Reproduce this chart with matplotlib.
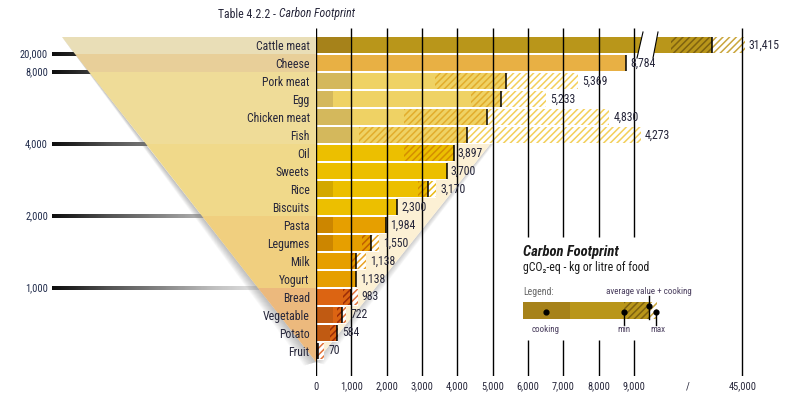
import numpy as np
import matplotlib
matplotlib.use("Agg")
import matplotlib.pyplot as plt
from matplotlib import font_manager
from matplotlib.patches import Polygon, Rectangle

# gCO2-eq per kg or litre of food
foods = ["Cattle meat", "Cheese", "Pork meat", "Egg", "Chicken meat", "Fish",
         "Oil", "Sweets", "Rice", "Biscuits", "Pasta", "Legumes", "Milk",
         "Yogurt", "Bread", "Vegetable", "Potato", "Fruit"]
cooking = [960, 0, 960, 470, 960, 960, 0, 0, 470, 0, 470, 470, 0, 0, 0, 470, 400, 0]
min_val = [12900, 8784, 3370, 4390, 2490, 1220, 2490, 3700, 2900, 2300, 1984, 1310,
           980, 1138, 770, 600, 400, 0]
avg_cook = [31415, 8784, 5369, 5233, 4830, 4273, 3897, 3700, 3170, 2300, 1984, 1550,
            1138, 1138, 983, 722, 584, 70]
max_val = [46000, 8784, 7410, 6510, 8300, 9200, 3897, 3700, 3400, 2300, 1984, 1790,
           1410, 1138, 1180, 850, 630, 235]

thresholds = ["20,000", "8,000", "4,000", "2,000", "1,000"]
threshold_row = [0, 1, 5, 9, 13]   # last food above each threshold
tick_vals = [0, 1000, 2000, 3000, 4000, 5000, 6000, 7000, 8000, 9000, 45000]

# colour groups
group = [0, 1, 2, 2, 2, 2, 3, 3, 3, 3, 4, 4, 4, 4, 5, 5, 5, 5]
cook_col = ["#a6821a", "#e8b044", "#d4b85c", "#d3a800", "#cc8600", "#c05a12"]
base_col = ["#b9961a", "#e8b044", "#efd264", "#ecbf00", "#e69f00", "#dc6412"]
dark_hatch = ["#7f6210", "#c08020", "#e2ad2c", "#d48e00", "#c06000", "#9c2c08"]
light_hatch = ["#caa63c", "#e8b044", "#f3cf5a", "#eab914", "#e9a224", "#e2733a"]
band_col = ["#e9deb7", "#e8cf99", "#efdc98", "#f0d98a", "#f0cf7f", "#ecb97d"]

names = {f.name for f in font_manager.fontManager.ttflist}
family = "DejaVu Sans"
for cand in ["Roboto Condensed", "Liberation Sans Narrow", "Open Sans Condensed", "Roboto"]:
    if cand in names:
        family = cand
        break
plt.rcParams["font.family"] = [family, "DejaVu Sans"]
plt.rcParams["hatch.linewidth"] = 1.1
fs = 1.0 if "Condensed" in family or "Narrow" in family else 0.88
txt = "#26263a"

# broken x axis: linear up to BRK, compressed after
BRK, K = 9870, 0.06257
def fwd(v):
    v = np.asarray(v, dtype=float)
    return np.where(v <= BRK, v, BRK + (v - BRK) * K)

def inv(u):
    u = np.asarray(u, dtype=float)
    return np.where(u <= BRK, u, BRK + (u - BRK) / K)

W, H = 803, 416
X0, PX = 316, 318 / 9000     # pixel of zero, pixels per unit
Y0, ROW = 45, 18             # first row centre, row pitch
XMAX = 66700
ax_w = float(fwd(XMAX)) * PX

fig = plt.figure(figsize=(W / 100, H / 100), dpi=100)
bg = fig.add_axes([0, 0, 1, 1])
bg.axis("off")

ax = fig.add_axes([X0 / W, 1 - 376 / H, ax_w / W, 348 / H])
ax.patch.set_alpha(0)
ax.set_xscale("function", functions=(fwd, inv))
ax.set_xlim(0, XMAX)
ax.set_ylim((376 - Y0) / ROW, (28 - Y0) / ROW)
for s in ax.spines.values():
    s.set_visible(False)

# ---- background triangle
TL, APEX, TR = (62, 37), (316, 362), (576, 37)
def left_edge(py):
    return TL[0] + (py - TL[1]) * (APEX[0] - TL[0]) / (APEX[1] - TL[1])

for d in range(1, 13):
    bg.add_patch(Polygon([TL, (APEX[0] - d, APEX[1] + d * 0.3), (APEX[0], APEX[1])],
                         color="#707070", alpha=0.045, lw=0))
    bg.add_patch(Polygon([TR, (APEX[0] + d * 0.7, APEX[1] + d * 0.2), (APEX[0], APEX[1])],
                         color="#808080", alpha=0.035, lw=0))
bg.add_patch(Polygon([(X0, TR[1]), TR, APEX], color="#fcf0d4", lw=0))

cuts = [TL[1]] + [Y0 + ROW * (r + 0.5) for r in threshold_row] + [APEX[1]]
for k in range(len(cuts) - 1):
    a, b = cuts[k], cuts[k + 1]
    bg.add_patch(Polygon([(left_edge(a), a), (X0, a), (X0, b), (left_edge(b), b)],
                         color=band_col[k], lw=0))

grad = np.linspace(0.05, 1, 256)[None, :]
for lab, r in zip(thresholds, threshold_row):
    py = Y0 + ROW * (r + 0.5)
    bg.imshow(grad, cmap="Greys_r", vmin=0, vmax=1, aspect="auto",
              extent=(52, X0, py + 1.6, py - 1.6), interpolation="bilinear")
    bg.text(48, py, lab, ha="right", va="center", fontsize=7.5 * fs, color="#1f2a4a")

# ---- bars
y = np.arange(len(foods))
cook = np.array(cooking)
lo = np.array(min_val)
mid = np.array(avg_cook)
hi = np.array(max_val)
c_cook = [cook_col[g] for g in group]
c_base = [base_col[g] for g in group]
c_dark = [dark_hatch[g] for g in group]
c_light = [light_hatch[g] for g in group]

ax.barh(y, hi, height=1.0, color="white", zorder=1)
ax.barh(y, cook, height=0.9, color=c_cook, lw=0, zorder=2)
ax.barh(y, lo - cook, left=cook, height=0.9, color=c_base, lw=0, zorder=2)
ax.barh(y, mid - lo, left=lo, height=0.9, color=c_base, edgecolor=c_dark,
        hatch="/////", lw=0, zorder=2)
ax.barh(y, hi - mid, left=mid, height=0.9, color="white", edgecolor=c_light,
        hatch="/////", lw=0, zorder=2)
ax.vlines(mid, y - 0.45, y + 0.45, color="black", lw=1.1, zorder=4)

for i in y:
    ax.annotate(f"{avg_cook[i]:,}", (max_val[i], i), xytext=(4, 0),
                textcoords="offset pixels", va="center", fontsize=8.5 * fs,
                color=txt, zorder=6)

# grid lines, interrupted by the legend box
ybot, ytop = ax.get_ylim()
gap_top, gap_bot = (237 - Y0) / ROW, (340 - Y0) / ROW
for t in tick_vals:
    if 6000 <= t <= 9000:
        ax.vlines([t, t], [ytop, gap_bot], [gap_top, ybot], color="black", lw=1.0, zorder=3)
    else:
        ax.vlines(t, ytop, ybot, color="black", lw=1.0, zorder=3)

# axis break on the cattle bar
def px2v(px):
    return (px - X0) / PX

def py2r(py):
    return (py - Y0) / ROW

brk = [(643, 32), (658, 32), (653, 58), (637, 58)]
ax.add_patch(Polygon([(px2v(a), py2r(b)) for a, b in brk], color="white", lw=0,
                     zorder=5, clip_on=False))
for (a1, b1), (a2, b2) in [(brk[0], brk[3]), (brk[1], brk[2])]:
    ax.plot([px2v(a1), px2v(a2)], [py2r(b1), py2r(b2)], color="black", lw=0.8,
            zorder=5, clip_on=False)

slash = float(inv((fwd(9000) + fwd(45000)) / 2))
ax.set_xticks(tick_vals + [slash], [f"{t:,}" for t in tick_vals] + ["/"])
ax.tick_params(axis="x", length=0, pad=4, labelsize=7.5 * fs, colors=txt)
ax.set_yticks(y, foods)
ax.tick_params(axis="y", length=0, pad=4.5, labelsize=8.5 * fs, colors=txt)

# ---- title
t1 = bg.text(218, 14, "Table 4.2.2 - ", fontsize=8.5 * fs, va="center", color=txt)
bg.annotate("Carbon Footprint", xy=(1, 0.5), xycoords=t1, va="center",
            fontsize=8.5 * fs, style="italic", color=txt)

# ---- legend block
bg.text(523, 252, "Carbon Footprint", fontsize=10.5 * fs, weight="bold", style="italic",
        va="center", color="#1a1a1a")
bg.text(523, 267, "gCO\u2082-eq - kg or litre of food", fontsize=8.5 * fs, va="center",
        color="#1a1a1a")
bg.text(523, 292, "Legend:", fontsize=7 * fs, va="center", color="#666666")
ly, lh = 302, 16.5
bg.add_patch(Rectangle((523, ly), 47, lh, color=cook_col[0], lw=0))
bg.add_patch(Rectangle((570, ly), 54, lh, color=base_col[0], lw=0))
bg.add_patch(Rectangle((624, ly), 25, lh, facecolor=base_col[0], edgecolor=dark_hatch[0],
                       hatch="/////", lw=0))
bg.add_patch(Rectangle((649, ly), 8, lh, facecolor="white", edgecolor=light_hatch[0],
                       hatch="/////", lw=0))
bg.plot([649, 649], [296, ly + lh], color="black", lw=1.0)
bg.plot([624, 624], [312, 325], color="black", lw=1.0)
bg.plot([656, 656], [312, 325], color="black", lw=1.0)
bg.scatter([546, 624, 649, 656], [312, 312, 306, 312], s=12, color="black", zorder=5)
lab_col = "#4b3f5f"
bg.text(546, 329, "cooking", fontsize=6.5 * fs, ha="center", va="center", color=lab_col)
bg.text(624, 329, "min", fontsize=6.5 * fs, ha="center", va="center", color=lab_col)
bg.text(658, 329, "max", fontsize=6.5 * fs, ha="center", va="center", color=lab_col)
bg.text(649, 292, "average value + cooking", fontsize=6.5 * fs, ha="center",
        va="center", color=lab_col)

bg.set_xlim(0, W)
bg.set_ylim(H, 0)

fig.savefig("out.png", dpi=100)
plt.close(fig)
